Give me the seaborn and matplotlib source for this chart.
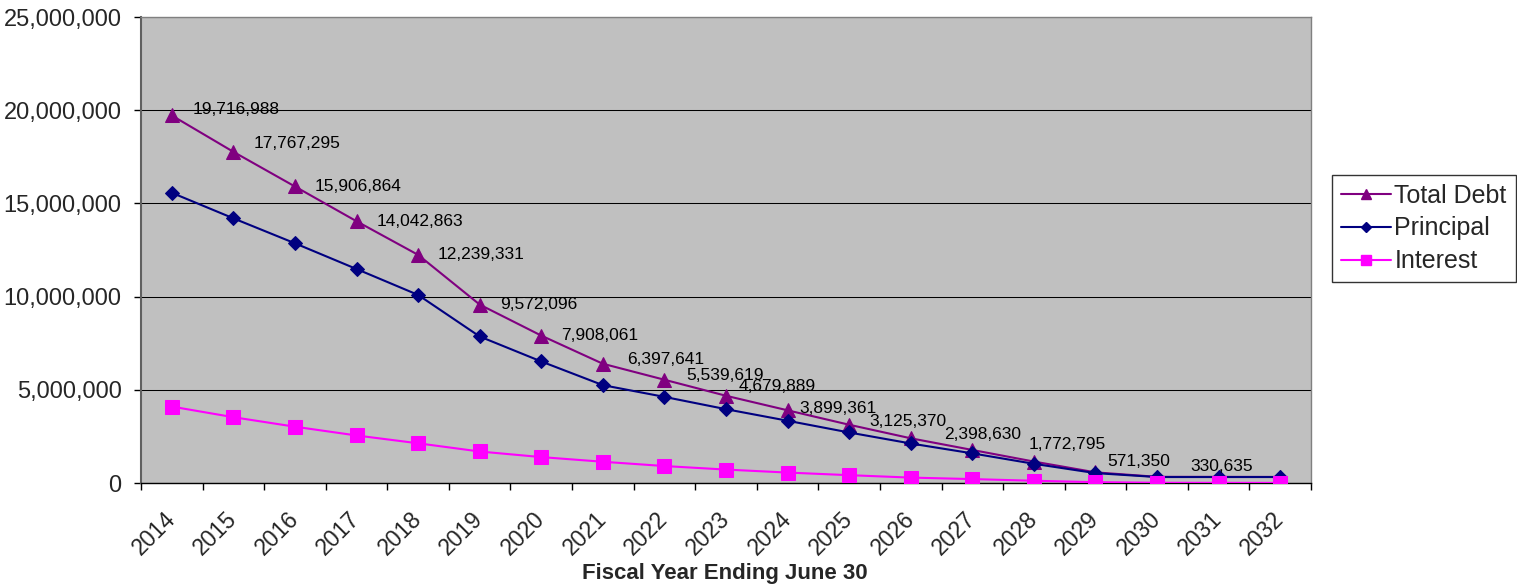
import numpy as np
import pandas as pd
import matplotlib
matplotlib.use("Agg")
import matplotlib.pyplot as plt
from matplotlib.ticker import FuncFormatter, MultipleLocator
from matplotlib.lines import Line2D
import seaborn as sns

# Debt service schedule by fiscal year
years = [str(y) for y in range(2014, 2033)]
total_debt = [19716988, 17767295, 15906864, 14042863, 12239331, 9572096,
              7908061, 6397641, 5539619, 4679889, 3899361, 3125370,
              2398630, 1772795, 1150000, 571350, 330635, 328000, 325000]
principal = [15570000, 14200000, 12860000, 11480000, 10090000, 7860000,
             6520000, 5250000, 4620000, 3960000, 3340000, 2710000,
             2120000, 1590000, 1030000, 530000, 320000, 320000, 320000]
interest = [4100000, 3530000, 3020000, 2550000, 2130000, 1690000,
            1390000, 1140000, 910000, 720000, 560000, 420000,
            290000, 210000, 120000, 45000, 12000, 8000, 5000]

# Years whose Total Debt value is printed next to the marker
labelled_years = ["2014", "2015", "2016", "2017", "2018", "2019", "2020",
                  "2021", "2022", "2023", "2024", "2025", "2026", "2027",
                  "2029", "2030"]

sns.set_style("white")
plt.rcParams["font.family"] = ["Liberation Sans", "DejaVu Sans"]

W, H, DPI = 1517, 586, 100
fig = plt.figure(figsize=(W / DPI, H / DPI), dpi=DPI)
ax = fig.add_axes([141 / W, (H - 483) / H, (1311 - 141) / W, (483 - 17) / H])
ax.set_facecolor("#C0C0C0")

df = pd.DataFrame({"year": years, "Total Debt": total_debt,
                   "Principal": principal, "Interest": interest})

styles = {
    "Total Debt": dict(color="#800080", marker="^", ms=10),
    "Principal": dict(color="#000080", marker="D", ms=7),
    "Interest": dict(color="#FF00FF", marker="s", ms=10),
}
for name, st in styles.items():
    sns.lineplot(data=df, x="year", y=name, ax=ax, color=st["color"],
                 marker=st["marker"], markersize=st["ms"],
                 markeredgecolor=st["color"], linewidth=1.5, sort=False,
                 label=None, legend=False, zorder=3)

# Horizontal grid
ax.yaxis.set_major_locator(MultipleLocator(5_000_000))
ax.set_ylim(0, 25_000_000)
ax.set_xlim(-0.5, len(years) - 0.5)
ax.grid(axis="y", color="#000000", linewidth=0.75, zorder=0)
ax.grid(axis="x", visible=False)
ax.set_axisbelow(True)

ax.yaxis.set_major_formatter(FuncFormatter(lambda v, p: f"{v:,.0f}"))
ax.tick_params(axis="y", which="major", left=True, length=5, width=1,
               color="#000000", labelsize=17, pad=9)

# Category ticks sit on the boundaries between years
ax.set_xticks(range(len(years)))
ax.set_xticklabels(years, rotation=45, ha="right", va="center",
                   rotation_mode="anchor", fontsize=16.5)
ax.tick_params(axis="x", which="major", bottom=False, pad=20)
ax.set_xticks(np.arange(-0.5, len(years)), minor=True)
ax.tick_params(axis="x", which="minor", bottom=True, length=5, width=1,
               color="#000000")

ax.set_xlabel("Fiscal Year Ending June 30", fontsize=16, fontweight="bold",
              va="center")
ax.xaxis.set_label_coords((725 - 141) / 1170, (483 - 573) / 466)
ax.set_ylabel("")

for side in ["top", "right"]:
    ax.spines[side].set_color("#808080")
    ax.spines[side].set_linewidth(1.0)
ax.spines["left"].set_color("#606060")
ax.spines["left"].set_linewidth(1.5)
ax.spines["bottom"].set_color("#000000")
ax.spines["bottom"].set_linewidth(1.0)

# Value labels on the Total Debt line
label_offsets = {
    "2014": (21, 6), "2015": (20, 8), "2016": (20, 0), "2017": (20, 0),
    "2018": (20, 0), "2019": (20, 0), "2020": (20, 0), "2021": (24, 4),
    "2022": (22, 4), "2023": (13, 9), "2024": (12, 2), "2025": (20, 3),
    "2026": (33, 4), "2027": (56, 5), "2029": (12, 11), "2030": (33, 10),
}
for yr in labelled_years:
    i = years.index(yr)
    dx, dy = label_offsets[yr]
    ax.annotate(f"{total_debt[i]:,}", (i, total_debt[i]), xytext=(dx, dy),
                textcoords="offset pixels", ha="left", va="center",
                fontsize=12.5, color="#000000", zorder=4)

handles = [Line2D([0], [0], color=st["color"], marker=st["marker"],
                  markersize=st["ms"] * 0.75, markeredgecolor=st["color"],
                  linewidth=1.5) for st in styles.values()]
leg = fig.legend(handles, list(styles.keys()), loc="upper left",
                 bbox_to_anchor=(1332 / W, 1 - 175 / H), fontsize=18,
                 frameon=True, fancybox=False, edgecolor="#000000",
                 handlelength=2.0, handletextpad=0.15, borderpad=0.35,
                 labelspacing=0.35, borderaxespad=0)
leg.get_frame().set_linewidth(1.0)

fig.savefig("out.png", dpi=DPI, facecolor="white")
